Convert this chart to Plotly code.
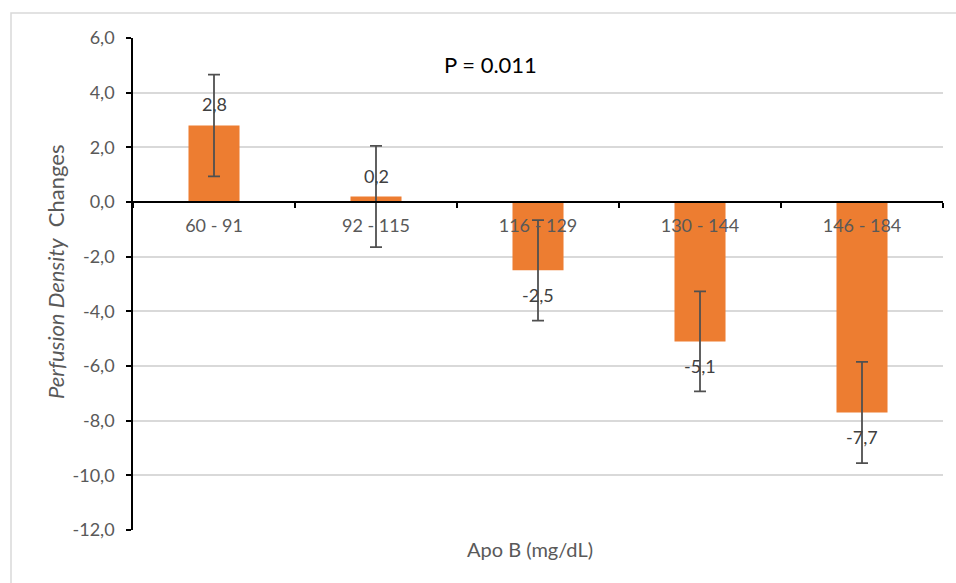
import plotly.graph_objects as go

# Apo B groups (mg/dL) and mean perfusion density change with error
categories = ["60 - 91", "92 - 115", "116 - 129", "130 - 144", "146 - 184"]
values = [2.8, 0.2, -2.5, -5.1, -7.7]
errors = [1.86, 1.85, 1.84, 1.83, 1.85]
y_ticks = [6, 4, 2, 0, -2, -4, -6, -8, -10, -12]
y_tick_labels = [f"{t:.1f}".replace(".", ",") for t in y_ticks]

W, H = 956, 583
M_L, M_R, M_T, M_B = 133, 13, 38, 53
plot_w = W - M_L - M_R
plot_h = H - M_T - M_B

FONT = "Lato, 'Open Sans', sans-serif"
GREY_TXT = "#595959"
BAR = "#ED7D31"
Y_MIN, Y_MAX = -12, 6

fig = go.Figure()
fig.add_trace(go.Bar(
    x=categories,
    y=values,
    marker=dict(color=BAR, line=dict(width=0)),
    error_y=dict(type="data", array=errors, visible=True,
                 color="#505050", thickness=1.8, width=6),
    hoverinfo="x+y",
))

# value labels beyond the end of each bar
for c, v in zip(categories, values):
    fig.add_annotation(
        x=c, y=v, xref="x", yref="y",
        text=f"{v:.1f}".replace(".", ","),
        showarrow=False, yanchor="middle",
        yshift=21 if v >= 0 else -25,
        font=dict(family=FONT, size=18, color="#404040"),
    )

# position of the category axis on the zero line (paper fraction)
zero_pos = (0 - Y_MIN) / (Y_MAX - Y_MIN)

fig.update_layout(
    width=W, height=H,
    margin=dict(l=M_L, r=M_R, t=M_T, b=M_B, pad=0),
    paper_bgcolor="white", plot_bgcolor="white",
    showlegend=False,
    bargap=0.685,
    font=dict(family=FONT, size=18, color=GREY_TXT),
    xaxis=dict(
        type="category",
        anchor="free", position=zero_pos,
        showline=True, linecolor="black", linewidth=1.5,
        ticks="outside", ticklen=5, tickcolor="black", tickwidth=1.5,
        tickson="boundaries",
        ticklabelstandoff=8,
        showgrid=False, zeroline=False,
        tickfont=dict(family=FONT, size=18, color=GREY_TXT),
    ),
    yaxis=dict(
        range=[Y_MIN, Y_MAX],
        tickvals=y_ticks,
        ticktext=y_tick_labels,
        showline=True, linecolor="black", linewidth=1.5,
        ticks="outside", ticklen=5, tickcolor="black", tickwidth=1.5,
        ticklabelstandoff=8,
        showgrid=True, gridcolor="#d9d9d9", gridwidth=1.5,
        zeroline=False,
        tickfont=dict(family=FONT, size=18, color=GREY_TXT),
    ),
)

# y-axis title
fig.add_annotation(
    xref="paper", yref="paper",
    x=(55 - M_L) / plot_w, y=1 - (272 - M_T) / plot_h,
    text="<i>Perfusion Density</i>&nbsp;&nbsp;Changes",
    textangle=-90, showarrow=False,
    xanchor="center", yanchor="middle",
    font=dict(family=FONT, size=22, color=GREY_TXT),
)

# x-axis title
fig.add_annotation(
    xref="paper", yref="paper",
    x=(530 - M_L) / plot_w, y=1 - (549 - M_T) / plot_h,
    text="Apo B (mg/dL)", showarrow=False,
    xanchor="center", yanchor="middle",
    font=dict(family=FONT, size=20, color=GREY_TXT),
)

# p-value
fig.add_annotation(
    xref="paper", yref="paper",
    x=(490 - M_L) / plot_w, y=1 - (64 - M_T) / plot_h,
    text="P = 0.011", showarrow=False,
    xanchor="center", yanchor="middle",
    font=dict(family=FONT, size=22, color="black"),
)

# light chart-area frame
fig.add_shape(
    type="rect", xref="paper", yref="paper", layer="below",
    x0=(11 - M_L) / plot_w, x1=(W + 5 - M_L) / plot_w,
    y0=1 - (H + 5 - M_T) / plot_h, y1=1 - (13 - M_T) / plot_h,
    line=dict(color="#d9d9d9", width=1.5),
)

fig.write_html("out.html")
